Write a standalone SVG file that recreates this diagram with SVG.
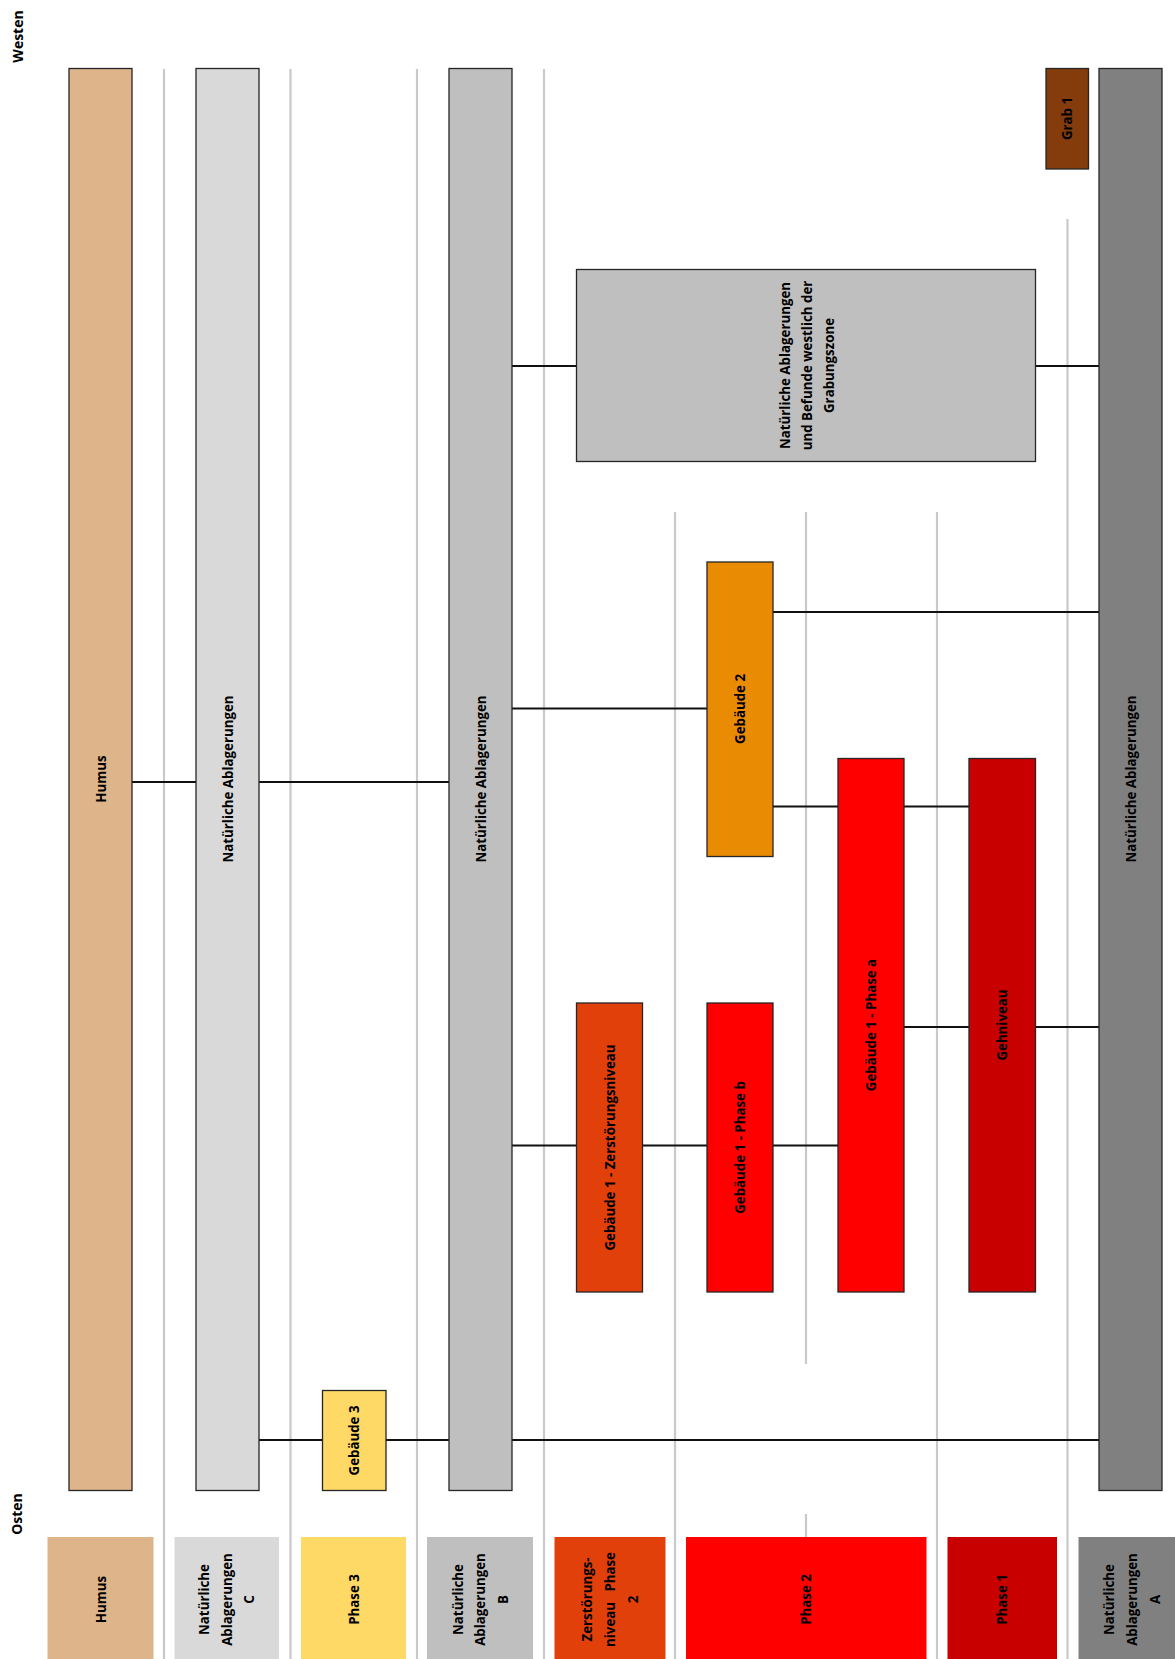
<svg xmlns="http://www.w3.org/2000/svg" width="1175" height="1659" viewBox="0 0 1175 1659">
<style>
.sep{stroke:#c9c9c9;stroke-width:2.2;fill:none}
.conn{stroke:#111;stroke-width:2;fill:none}
.node{stroke:#262626;stroke-width:1.3}
.leg{stroke:none}
.t{font-family:"Open Sans","Liberation Sans",sans-serif;font-size:13.3px;font-weight:700;fill:#000;text-anchor:middle;dominant-baseline:central}
.dir{font-family:"Open Sans","Liberation Sans",sans-serif;font-size:14px;font-weight:700;fill:#000;text-anchor:middle;dominant-baseline:central}
</style>
<rect width="1175" height="1659" fill="#fff"/>
<g id="separators">
<line class="sep" x1="164" y1="69" x2="164" y2="1659"/>
<line class="sep" x1="290.5" y1="69" x2="290.5" y2="1659"/>
<line class="sep" x1="417" y1="69" x2="417" y2="1659"/>
<line class="sep" x1="544" y1="69" x2="544" y2="1659"/>
<line class="sep" x1="675" y1="512" x2="675" y2="1659"/>
<line class="sep" x1="806" y1="512" x2="806" y2="1364"/>
<line class="sep" x1="806" y1="1514" x2="806" y2="1537"/>
<line class="sep" x1="937" y1="512" x2="937" y2="1659"/>
<line class="sep" x1="1067.5" y1="219" x2="1067.5" y2="1659"/>
</g>
<g id="connectors">
<line class="conn" x1="132" y1="782" x2="196" y2="782"/>
<line class="conn" x1="259" y1="782" x2="449" y2="782"/>
<line class="conn" x1="259" y1="1440" x2="323" y2="1440"/>
<line class="conn" x1="386" y1="1440" x2="449" y2="1440"/>
<line class="conn" x1="512" y1="1440" x2="1099" y2="1440"/>
<line class="conn" x1="512" y1="366" x2="576.5" y2="366"/>
<line class="conn" x1="1035.5" y1="366" x2="1099" y2="366"/>
<line class="conn" x1="512" y1="708.5" x2="707" y2="708.5"/>
<line class="conn" x1="773" y1="612" x2="1099" y2="612"/>
<line class="conn" x1="773" y1="806.5" x2="838" y2="806.5"/>
<line class="conn" x1="904" y1="806.5" x2="969" y2="806.5"/>
<line class="conn" x1="512" y1="1145.5" x2="576.5" y2="1145.5"/>
<line class="conn" x1="642.5" y1="1145.5" x2="707" y2="1145.5"/>
<line class="conn" x1="773" y1="1145.5" x2="838" y2="1145.5"/>
<line class="conn" x1="904" y1="1027" x2="969" y2="1027"/>
<line class="conn" x1="1035.5" y1="1027" x2="1099" y2="1027"/>
</g>
<g id="humus">
<rect class="node" x="69" y="68.5" width="63" height="1422" fill="#DEB48A"/>
<text class="t" transform="translate(100.5,779) rotate(-90)">Humus</text>
</g>
<g id="nat-c">
<rect class="node" x="196" y="68.5" width="63" height="1422" fill="#D9D9D9"/>
<text class="t" transform="translate(227.5,779) rotate(-90)">Natürliche Ablagerungen</text>
</g>
<g id="gebaeude3">
<rect class="node" x="322.5" y="1390.5" width="63.5" height="100" fill="#FFD966"/>
<text class="t" transform="translate(354,1440.5) rotate(-90)">Gebäude 3</text>
</g>
<g id="nat-b">
<rect class="node" x="449" y="68.5" width="63" height="1422" fill="#BFBFBF"/>
<text class="t" transform="translate(480.5,779) rotate(-90)">Natürliche Ablagerungen</text>
</g>
<g id="nat-west">
<rect class="node" x="576.5" y="269.5" width="459" height="192" fill="#BFBFBF"/>
<text class="t" transform="translate(807,365.5) rotate(-90)"><tspan x="0" y="-21.7">Natürliche Ablagerungen</tspan><tspan x="0" y="0">und Befunde westlich der</tspan><tspan x="0" y="21.7">Grabungszone</tspan></text>
</g>
<g id="gebaeude2">
<rect class="node" x="707" y="562" width="66" height="294.5" fill="#EA8C03"/>
<text class="t" transform="translate(740,709) rotate(-90)">Gebäude 2</text>
</g>
<g id="zerstoerung">
<rect class="node" x="576.5" y="1003" width="66" height="289" fill="#E2400B"/>
<text class="t" transform="translate(609.5,1147.5) rotate(-90)">Gebäude 1 - Zerstörungsniveau</text>
</g>
<g id="phase-b">
<rect class="node" x="707" y="1003" width="66" height="289" fill="#FF0000"/>
<text class="t" transform="translate(740,1147.5) rotate(-90)">Gebäude 1 - Phase b</text>
</g>
<g id="phase-a">
<rect class="node" x="838" y="758.5" width="66" height="533.5" fill="#FF0000"/>
<text class="t" transform="translate(871,1025) rotate(-90)">Gebäude 1 - Phase a</text>
</g>
<g id="gehniveau">
<rect class="node" x="969" y="758.5" width="66.5" height="533.5" fill="#C90000"/>
<text class="t" transform="translate(1002,1025) rotate(-90)">Gehniveau</text>
</g>
<g id="grab1">
<rect class="node" x="1046" y="68.5" width="42.5" height="100.5" fill="#843C0C"/>
<text class="t" transform="translate(1067,118.5) rotate(-90)">Grab 1</text>
</g>
<g id="nat-a">
<rect class="node" x="1099" y="68.5" width="63" height="1422" fill="#808080"/>
<text class="t" transform="translate(1130.5,779) rotate(-90)">Natürliche Ablagerungen</text>
</g>
<g id="labels">
<text class="dir" transform="translate(17.5,36.5) rotate(-90)">Westen</text>
<text class="dir" transform="translate(16.5,1514) rotate(-90)">Osten</text>
</g>
<g id="legend">
<rect class="leg" x="47.5" y="1537" width="106" height="125" fill="#DEB48A"/>
<text class="t" transform="translate(100.5,1599.5) rotate(-90)">Humus</text>
<rect class="leg" x="174.5" y="1537" width="104.5" height="125" fill="#D9D9D9"/>
<text class="t" transform="translate(226.5,1599.5) rotate(-90)"><tspan x="0" y="-22.5">Natürliche</tspan><tspan x="0" y="0">Ablagerungen</tspan><tspan x="0" y="22.5">C</tspan></text>
<rect class="leg" x="301" y="1537" width="105" height="125" fill="#FFD966"/>
<text class="t" transform="translate(353.5,1599.5) rotate(-90)">Phase 3</text>
<rect class="leg" x="427" y="1537" width="106" height="125" fill="#BFBFBF"/>
<text class="t" transform="translate(480,1599.5) rotate(-90)"><tspan x="0" y="-22.5">Natürliche</tspan><tspan x="0" y="0">Ablagerungen</tspan><tspan x="0" y="22.5">B</tspan></text>
<rect class="leg" x="554.5" y="1537" width="111" height="125" fill="#E2400B"/>
<text class="t" transform="translate(610,1599.5) rotate(-90)" xml:space="preserve"><tspan x="0" y="-23">Zerstörungs-</tspan><tspan x="0" y="0">niveau   Phase</tspan><tspan x="0" y="23">2</tspan></text>
<rect class="leg" x="686" y="1537" width="240.5" height="125" fill="#FF0000"/>
<text class="t" transform="translate(806,1599.5) rotate(-90)">Phase 2</text>
<rect class="leg" x="947.5" y="1537" width="109.5" height="125" fill="#C90000"/>
<text class="t" transform="translate(1002,1599.5) rotate(-90)">Phase 1</text>
<rect class="leg" x="1078.5" y="1537" width="107" height="125" fill="#808080"/>
<text class="t" transform="translate(1132,1599.5) rotate(-90)"><tspan x="0" y="-23">Natürliche</tspan><tspan x="0" y="0">Ablagerungen</tspan><tspan x="0" y="23">A</tspan></text>
</g>
</svg>
